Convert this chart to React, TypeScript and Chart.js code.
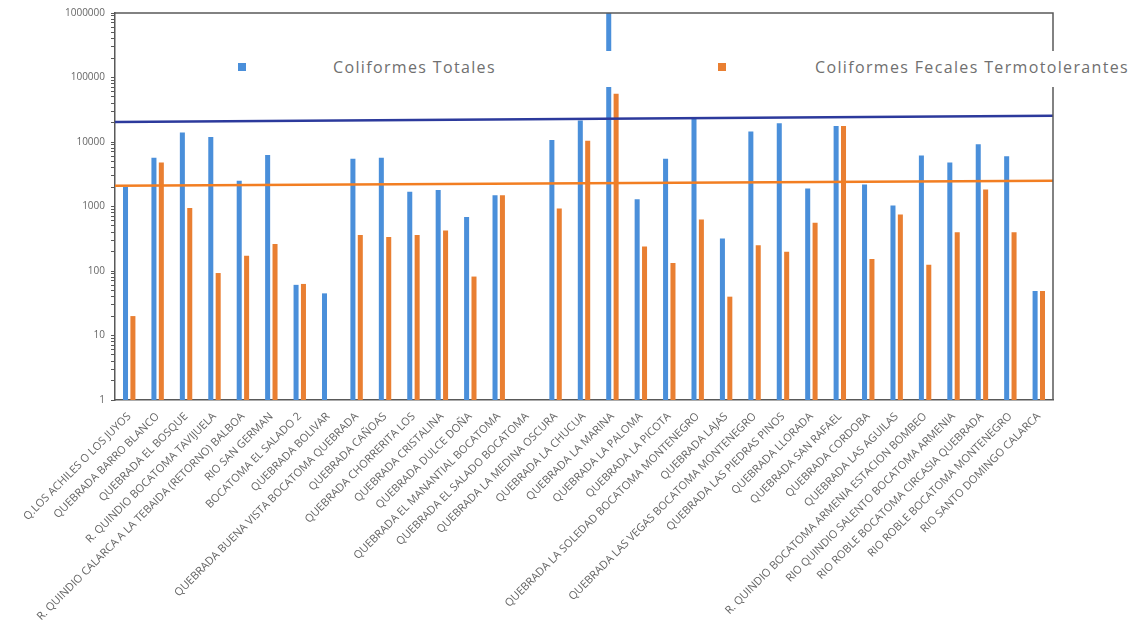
import React, { useEffect, useRef } from 'react';
import { Chart, registerables } from 'chart.js';

Chart.register(...registerables);

const categories = [
  'Q.LOS ACHILES O LOS JUYOS',
  'QUEBRADA BARRO BLANCO',
  'QUEBRADA EL BOSQUE',
  'R. QUINDIO BOCATOMA TAVIJUELA',
  'R. QUINDIO CALARCA A LA TEBAIDA (RETORNO) BALBOA',
  'RIO SAN GERMAN',
  'BOCATOMA EL SALADO 2',
  'QUEBRADA BOLIVAR',
  'QUEBRADA BUENA VISTA BOCATOMA QUEBRADA',
  'QUEBRADA CAÑOAS',
  'QUEBRADA CHORRERITA LOS',
  'QUEBRADA CRISTALINA',
  'QUEBRADA DULCE DOÑA',
  'QUEBRADA EL MANANTIAL BOCATOMA',
  'QUEBRADA EL SALADO BOCATOMA',
  'QUEBRADA LA MEDINA OSCURA',
  'QUEBRADA LA CHUCUA',
  'QUEBRADA LA MARINA',
  'QUEBRADA LA PALOMA',
  'QUEBRADA LA PICOTA',
  'QUEBRADA LA SOLEDAD BOCATOMA MONTENEGRO',
  'QUEBRADA LAJAS',
  'QUEBRADA LAS VEGAS BOCATOMA MONTENEGRO',
  'QUEBRADA LAS PIEDRAS PINOS',
  'QUEBRADA LLORADA',
  'QUEBRADA SAN RAFAEL',
  'QUEBRADA CORDOBA',
  'QUEBRADA LAS AGUILAS',
  'R. QUINDIO BOCATOMA ARMENIA ESTACION BOMBEO',
  'RIO QUINDIO SALENTO BOCATOMA ARMENIA',
  'RIO ROBLE BOCATOMA CIRCASIA QUEBRADA',
  'RIO ROBLE BOCATOMA MONTENEGRO',
  'RIO SANTO DOMINGO CALARCA',
];

const coliformesTotales = [
  2000, 5700, 14000, 12000, 2500, 6300, 61, 45, 5500, 5700, 1700,
  1800, 690, 1500, null, 10700, 21500, 1000000, 1300, 5500, 23000, 320,
  14500, 19500, 1900, 17700, 2200, 1040, 6200, 4800, 9200, 6000, 49,
];

const coliformesFecales = [
  20, 4800, 950, 93, 173, 262, 63, null, 360, 336, 360,
  424, 82, 1500, null, 930, 10500, 56000, 240, 133, 630, 40,
  250, 198, 560, 17700, 154, 750, 125, 400, 1830, 400, 49,
];

const limiteTotales = [20500, 25500];
const limiteFecales = [2100, 2500];
const limiteExtremos = ['inicio', 'fin'];

const yMajorTicks = [1, 10, 100, 1000, 10000, 100000, 1000000];
const seriesNames = ['Coliformes Totales', 'Coliformes Fecales Termotolerantes'];

const BLUE = '#4A8FDA';
const ORANGE = '#E97F32';
const NAVY = '#2C3A9C';
const LINE_ORANGE = '#F27E22';
const AXIS = '#595959';
const TEXT = '#666666';

const framePlugin = {
  id: 'frame',
  afterDraw(chart: any) {
    const { ctx, chartArea } = chart;
    ctx.save();
    ctx.strokeStyle = AXIS;
    ctx.lineWidth = 1.5;
    ctx.beginPath();
    ctx.moveTo(chartArea.left, chartArea.top);
    ctx.lineTo(chartArea.right, chartArea.top);
    ctx.lineTo(chartArea.right, chartArea.bottom);
    ctx.stroke();
    ctx.restore();
  },
};

const legendText: React.CSSProperties = {
  position: 'absolute',
  top: 56,
  fontFamily: 'Open Sans',
  fontSize: 16,
  letterSpacing: '1.35px',
  color: '#707070',
  lineHeight: '22px',
  whiteSpace: 'nowrap',
};

export default function App() {
  const canvasRef = useRef<HTMLCanvasElement | null>(null);

  useEffect(() => {
    document.body.style.margin = '0';
    const canvas = canvasRef.current;
    if (!canvas) return;
    const chart = new Chart(canvas, {
      type: 'bar',
      data: {
        labels: categories,
        datasets: [
          {
            type: 'line',
            label: 'Límite totales',
            data: limiteTotales,
            xAxisID: 'x2',
            borderColor: NAVY,
            borderWidth: 2.5,
            pointRadius: 0,
            order: 0,
          } as any,
          {
            type: 'line',
            label: 'Límite fecales',
            data: limiteFecales,
            xAxisID: 'x2',
            borderColor: LINE_ORANGE,
            borderWidth: 2.5,
            pointRadius: 0,
            order: 0,
          } as any,
          {
            label: seriesNames[0],
            data: coliformesTotales,
            backgroundColor: BLUE,
            xAxisID: 'x',
            categoryPercentage: 1.04,
            barPercentage: 0.68,
            order: 1,
          },
          {
            label: seriesNames[1],
            data: coliformesFecales,
            backgroundColor: ORANGE,
            xAxisID: 'x',
            categoryPercentage: 1.04,
            barPercentage: 0.68,
            order: 1,
          },
        ],
      },
      options: {
        animation: false,
        responsive: false,
        maintainAspectRatio: false,
        layout: { padding: { left: 0, top: 13, right: 80, bottom: 0 } },
        plugins: {
          legend: { display: false },
          tooltip: { enabled: false },
        },
        scales: {
          x: {
            type: 'category',
            offset: true,
            grid: { display: false },
            border: { display: true, color: AXIS, width: 1.5 },
            ticks: {
              autoSkip: false,
              maxRotation: 45,
              minRotation: 45,
              padding: 2,
              color: TEXT,
              font: { family: 'Open Sans', size: 11 },
            },
            afterFit(scale: any) {
              scale.height = 241;
            },
          },
          x2: {
            type: 'category',
            labels: limiteExtremos,
            offset: false,
            display: false,
          },
          y: {
            type: 'logarithmic',
            min: 1,
            max: 1000000,
            border: { display: true, color: AXIS, width: 1.5 },
            grid: {
              display: true,
              drawOnChartArea: false,
              drawTicks: true,
              tickLength: 4,
              color: AXIS,
            },
            afterBuildTicks(scale: any) {
              const t: any[] = [];
              yMajorTicks.forEach((d, i) => {
                t.push({ value: d, major: true });
                if (i < yMajorTicks.length - 1) {
                  for (let k = 2; k <= 9; k++) t.push({ value: d * k, major: false });
                }
              });
              scale.ticks = t;
            },
            ticks: {
              autoSkip: false,
              padding: 6,
              color: TEXT,
              font: { family: 'Open Sans', size: 10 },
              callback: (v: any) => (yMajorTicks.includes(Number(v)) ? String(v) : ''),
            },
            afterFit(scale: any) {
              scale.width = 115;
            },
          },
        },
      },
      plugins: [framePlugin],
    });
    return () => chart.destroy();
  }, []);

  return (
    <div style={{ position: 'relative', width: 1133, height: 641, background: '#fff' }}>
      <canvas ref={canvasRef} width={1133} height={641} style={{ display: 'block' }} />
      <div
        style={{
          position: 'absolute',
          left: 222,
          top: 51,
          width: 911,
          height: 36,
          background: '#fff',
        }}
      />
      <div style={{ position: 'absolute', left: 238, top: 63, width: 8, height: 8, background: BLUE }} />
      <div style={{ ...legendText, left: 333 }}>{seriesNames[0]}</div>
      <div style={{ position: 'absolute', left: 718, top: 63, width: 8, height: 8, background: ORANGE }} />
      <div style={{ ...legendText, left: 815 }}>{seriesNames[1]}</div>
    </div>
  );
}
